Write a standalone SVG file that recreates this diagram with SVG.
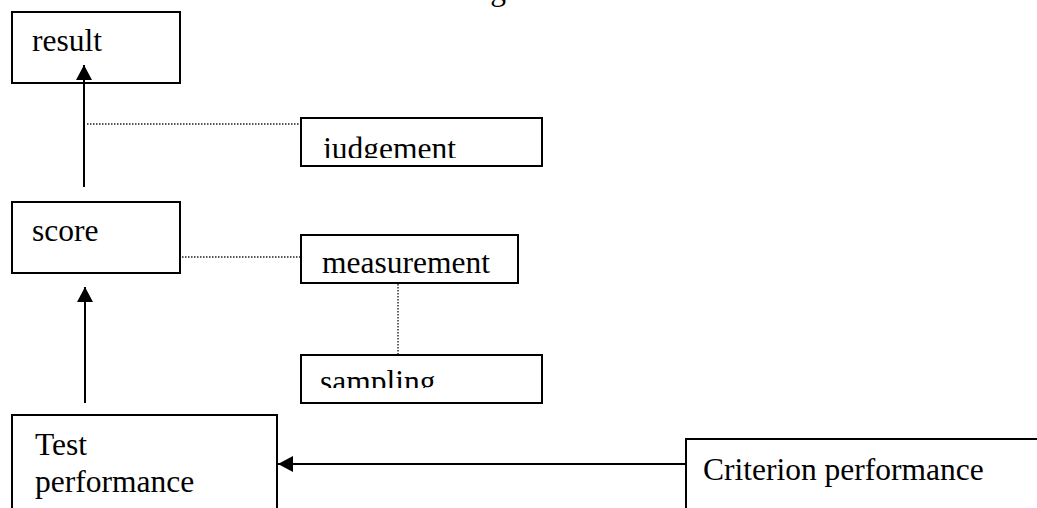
<svg xmlns="http://www.w3.org/2000/svg" width="1037" height="508" viewBox="0 0 1037 508">
<style>
.box{fill:#fff;stroke:#000;stroke-width:2}
.t{font-family:"Liberation Serif","Times New Roman",serif;font-size:31.5px;fill:#000}
.arrow{stroke:#000;stroke-width:2;fill:none}
.dot{stroke:#222;stroke-width:1.4;stroke-dasharray:1.5 1.5;fill:none}
</style>
<defs>
<marker id="ah" viewBox="0 0 15 16" refX="15" refY="8" markerWidth="15" markerHeight="16" markerUnits="userSpaceOnUse" orient="auto">
<path d="M0,0 L15,8 L0,16 Z" fill="#000"/>
</marker>
<clipPath id="cj"><rect x="301" y="118" width="241" height="40"/></clipPath>
<clipPath id="cs"><rect x="301" y="355" width="241" height="33"/></clipPath>
</defs>
<rect width="1037" height="508" fill="#fff"/>
<text class="t" x="464" y="-0.5">Figure</text>
<g id="result">
<rect class="box" x="12" y="12" width="168" height="71"/>
<text class="t" x="32" y="51">result</text>
</g>
<g id="score">
<rect class="box" x="12" y="202" width="168" height="71"/>
<text class="t" x="32" y="241">score</text>
</g>
<g id="judgement">
<rect class="box" x="301" y="118" width="241" height="48"/>
<text class="t" x="323" y="159" clip-path="url(#cj)">judgement</text>
</g>
<g id="measurement">
<rect class="box" x="301" y="235" width="217" height="48"/>
<text class="t" x="322" y="273">measurement</text>
</g>
<g id="sampling">
<rect class="box" x="301" y="355" width="241" height="48"/>
<text class="t" x="320" y="392" clip-path="url(#cs)">sampling</text>
</g>
<g id="test-performance">
<rect class="box" x="12" y="415" width="265" height="110"/>
<text class="t" x="35" y="455">Test</text>
<text class="t" x="35" y="492">performance</text>
</g>
<g id="criterion-performance">
<rect class="box" x="686" y="439" width="370" height="90"/>
<text class="t" x="703" y="480">Criterion performance</text>
</g>
<g id="connectors">
<line class="arrow" x1="84" y1="187" x2="84" y2="65" marker-end="url(#ah)"/>
<line class="arrow" x1="85" y1="403" x2="85" y2="287" marker-end="url(#ah)"/>
<line class="arrow" x1="685" y1="464" x2="278" y2="464" marker-end="url(#ah)"/>
<line class="dot" x1="87" y1="124" x2="300" y2="124"/>
<line class="dot" x1="182" y1="257" x2="300" y2="257"/>
<line class="dot" x1="398" y1="284" x2="398" y2="354"/>
</g>
</svg>
